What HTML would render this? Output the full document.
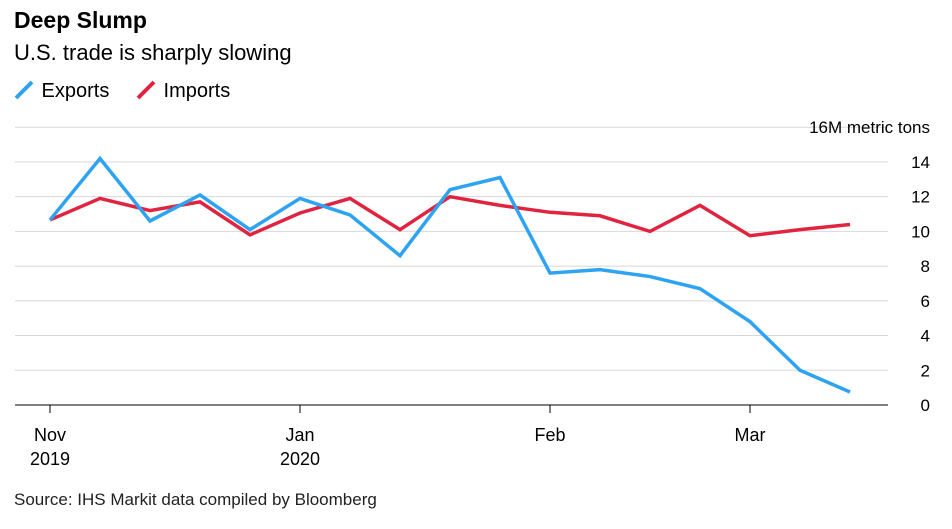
<!DOCTYPE html>
<html><head><meta charset="utf-8"><style>
body{margin:0;background:#fff;font-family:"Liberation Sans",sans-serif;}
#wrap{position:relative;width:952px;height:529px;overflow:hidden;}
.t{position:absolute;color:#000;white-space:nowrap;}
</style></head><body>
<div id="wrap">
<div class="t" style="left:14px;top:7px;font-size:23px;font-weight:bold;">Deep Slump</div>
<div class="t" style="left:14px;top:40px;font-size:22px;">U.S. trade is sharply slowing</div>
<div class="t" style="left:14px;top:80px;font-size:20px;"><svg width="22" height="20" style="vertical-align:-3px"><line x1="2" y1="18" x2="18" y2="2" stroke="#2ea3f2" stroke-width="4"/></svg> Exports</div>
<div class="t" style="left:136px;top:80px;font-size:20px;"><svg width="22" height="20" style="vertical-align:-3px"><line x1="2" y1="18" x2="18" y2="2" stroke="#e0243f" stroke-width="4"/></svg> Imports</div>
<svg id="chart" width="952" height="529" style="position:absolute;left:0;top:0"></svg>
<div class="t" style="left:14px;top:490px;font-size:17px;color:#222;">Source: IHS Markit data compiled by Bloomberg</div>
</div>
<script>
const yTicks=[0,2,4,6,8,10,12,14,16];
const xLabels=[["Nov","2019"],["Jan","2020"],["Feb",""],["Mar",""]];
const xLabelIdx=[0,5,10,14];
const exportsVals=[10.66,14.2,10.6,12.1,10.1,11.9,10.95,8.6,12.4,13.1,7.6,7.8,7.4,6.7,4.8,2.0,0.75];
const importsVals=[10.66,11.9,11.2,11.7,9.8,11.06,11.9,10.1,12.0,11.5,11.1,10.9,10.0,11.5,9.75,10.1,10.4];
const NS="http://www.w3.org/2000/svg";
const svg=document.getElementById('chart');
const y=v=>405-v*17.36;
const x=i=>50+i*50;
function mk(tag,attrs){const e=document.createElementNS(NS,tag);for(const k in attrs)e.setAttribute(k,attrs[k]);svg.appendChild(e);return e;}
yTicks.forEach(v=>{
  const l=mk('line',{x1:15,x2:888,y1:y(v),y2:y(v),stroke:v===0?'#000':'#d8d8d8','stroke-width':1});
  
  
  const t=mk('text',{x:930,y:y(v)+6,'text-anchor':'end','font-size':17,'font-family':'Liberation Sans, sans-serif'});
  t.textContent=v===16?'16M metric tons':String(v);
  
  
});
xLabelIdx.forEach((idx,k)=>{
  const tk=mk('line',{x1:x(idx),x2:x(idx),y1:405,y2:413,stroke:'#000'});
  
  
  xLabels[k].forEach((s,j)=>{
    const t=mk('text',{x:x(idx),y:441+j*24,'text-anchor':'middle','font-size':18,'font-family':'Liberation Sans, sans-serif'});
    t.textContent=s;
    
    
  });
});
function line(vals,color,name){
  const p=mk('polyline',{points:vals.map((v,i)=>x(i)+','+y(v)).join(' '),fill:'none',stroke:color,'stroke-width':3.5,'stroke-linejoin':'miter'});
  
  
}
line(importsVals,'#e0243f','imports-line');
line(exportsVals,'#2ea3f2','exports-line');
</script>
</body></html>
